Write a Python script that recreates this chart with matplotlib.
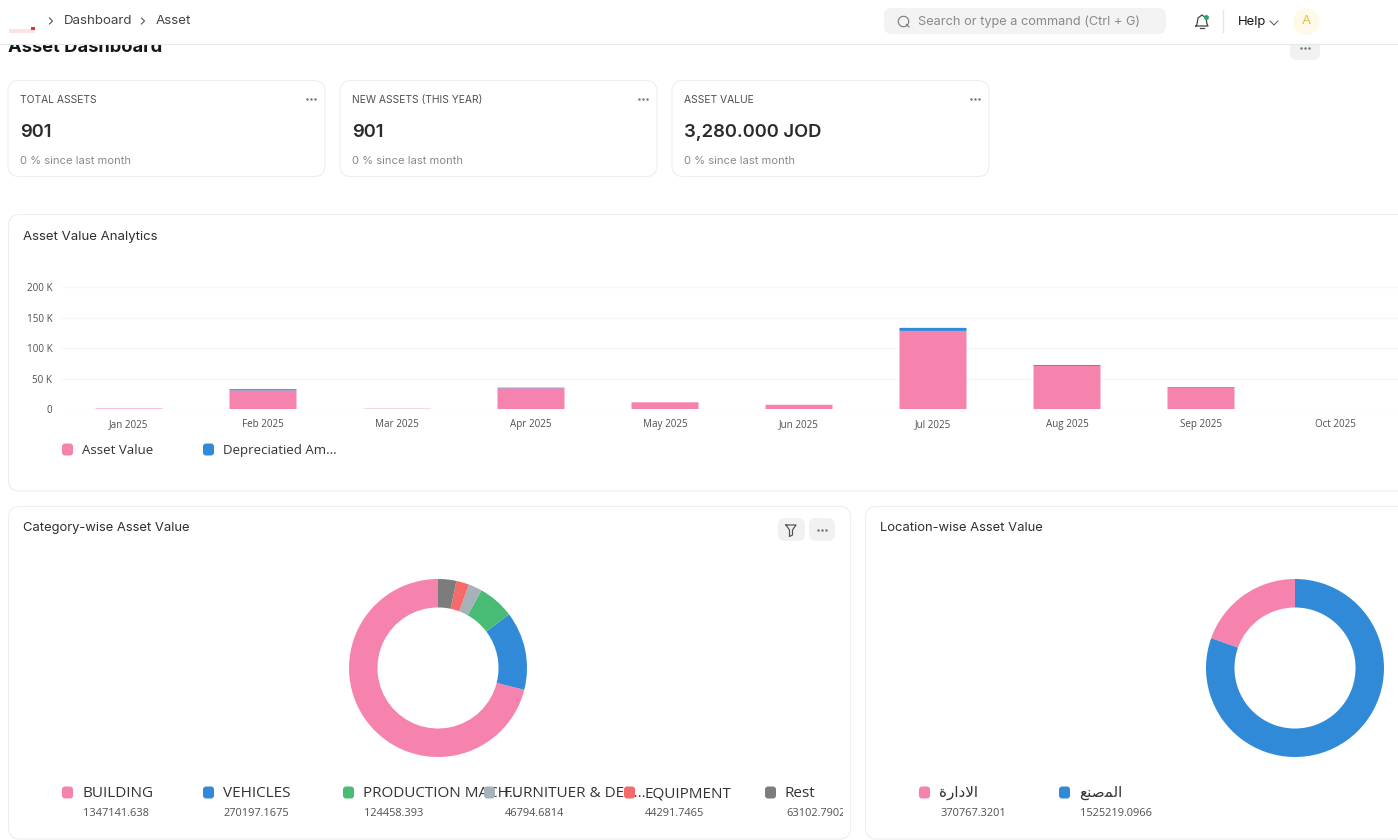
import matplotlib

matplotlib.use("Agg")

import matplotlib.pyplot as plt
from matplotlib.patches import FancyBboxPatch, Rectangle

W, H = 1398, 840

plt.rcParams["font.family"] = ["Inter", "DejaVu Sans"]

# 数据
months = ["Jan 2025", "Feb 2025", "Mar 2025", "Apr 2025", "May 2025",
          "Jun 2025", "Jul 2025", "Aug 2025", "Sep 2025", "Oct 2025"]
asset_value = [800, 30500, 500, 34000, 11000, 7000, 128000, 70500, 35000, 0]
depreciated = [0, 2000, 0, 1000, 0, 0, 5000, 1500, 1000, 0]
y_ticks = [0, 50000, 100000, 150000, 200000]
y_tick_labels = ["0", "50 K", "100 K", "150 K", "200 K"]

cat_names = ["BUILDING", "VEHICLES", "PRODUCTION MACH...", "FURNITUER & DEC...", "EQUIPMENT", "Rest"]
cat_values = [1347141.638, 270197.1675, 124458.393, 46794.6814, 44291.7465, 63102.7902]
cat_labels = ["1347141.638", "270197.1675", "124458.393", "46794.6814", "44291.7465", "63102.7902"]

# 阿拉伯文用呈现形式按视觉顺序写（matplotlib 不做 shaping）
loc_names = ["\ufe93\ufead\ufe8d\ufea9\ufefb\ufe8d", "\ufeca\ufee8\ufebb\ufee4\ufedf\ufe8d"]
loc_values = [370767.3201, 1525219.0966]
loc_labels = ["370767.3201", "1525219.0966"]

kpi_titles = ["TOTAL ASSETS", "NEW ASSETS (THIS YEAR)", "ASSET VALUE"]
kpi_values = ["901", "901", "3,280.000 JOD"]
kpi_notes = ["0 % since last month", "0 % since last month", "0 % since last month"]

PINK = "#f683ae"
BLUE = "#318ad8"
GREEN = "#48bb74"
GREY = "#a6b1b9"
RED = "#f56b6b"
DARK_GREY = "#7c7c7c"
pie_colors = [PINK, BLUE, GREEN, GREY, RED, DARK_GREY]
TEXT = "#333333"
CHART_FONT = ["Open Sans", "DejaVu Sans"]


def px_axes(fig, x0, y0, x1, y1, **kwargs):
    # 像素坐标（原点左上）转成 figure 坐标
    return fig.add_axes([x0 / W, 1 - y1 / H, (x1 - x0) / W, (y1 - y0) / H], **kwargs)


def card(ax, x0, y0, x1, y1, radius=11):
    ax.add_patch(FancyBboxPatch((x0, y0), x1 - x0, y1 - y0,
                                boxstyle=f"round,pad=0,rounding_size={radius}",
                                fc="white", ec="#eeeeee", lw=0.8, zorder=1))


def button(ax, x0, y0, x1, y1, radius=7, color="#f1f1f1", zorder=2):
    ax.add_patch(FancyBboxPatch((x0, y0), x1 - x0, y1 - y0,
                                boxstyle=f"round,pad=0,rounding_size={radius}",
                                fc=color, ec="none", zorder=zorder))


def dots(ax, x, y, color="#777777", size=0.8, zorder=3):
    ax.plot([x - 4, x, x + 4], [y, y, y], ls="none", marker="o", ms=size, color=color, zorder=zorder)


def legend_item(ax, x, y, name, value=None, color=PINK, clip=None, size=11.0, weight=500):
    # 文字先画、色块后画，后一项的色块盖住前一项溢出的文字
    ax.text(x + 20, y + 1, name, fontsize=size, fontweight=weight, color=TEXT, va="center",
            family=CHART_FONT, zorder=3)
    button(ax, x, y - 6, x + 11, y + 6, radius=3, color=color, zorder=4)
    if value is not None:
        t = ax.text(x + 21, y + 21, value, fontsize=7.9, color="#505050", va="center",
                    family=CHART_FONT, zorder=3)
        if clip is not None:
            t.set_clip_on(True)
            t.set_clip_path(clip)


fig = plt.figure(figsize=(W / 100, H / 100), dpi=100, facecolor="white")

bg = fig.add_axes([0, 0, 1, 1], zorder=0)
bg.set_xlim(0, W)
bg.set_ylim(H, 0)
bg.axis("off")

# 页面标题（被顶栏遮住上半部分）
bg.text(8, 47.5, "Asset Dashboard", fontsize=13.2, fontweight="bold", color="#171717", va="center", zorder=1)
button(bg, 1290, 30, 1320, 60, radius=7, zorder=1)
dots(bg, 1305, 47.5, zorder=2)

# 顶栏
bg.add_patch(Rectangle((0, 0), W, 43.5, fc="white", ec="none", zorder=5))
bg.plot([0, W], [43.5, 43.5], color="#e8e8e8", lw=0.8, zorder=6)
bg.add_patch(Rectangle((9, 29), 26, 4, fc="#fbe3e3", ec="none", zorder=6))
bg.add_patch(Rectangle((31, 27), 4, 3, fc="#d9323c", ec="none", zorder=6))
bg.plot([49.5, 52.5, 49.5], [18, 21, 24], color="#555555", lw=0.8, zorder=6)
bg.text(64, 21, "Dashboard", fontsize=9.6, color="#444444", va="center", zorder=6)
bg.plot([141.5, 144.5, 141.5], [18, 21, 24], color="#555555", lw=0.8, zorder=6)
bg.text(156, 21, "Asset", fontsize=9.6, color="#444444", va="center", zorder=6)
button(bg, 884, 8, 1166, 34, radius=8, color="#f3f3f3", zorder=6)
bg.plot([903], [21], marker="o", ms=7.5, mfc="none", mec="#777777", mew=0.8, zorder=7)
bg.plot([906.5, 909], [24.5, 27], color="#777777", lw=0.8, zorder=7)
bg.text(918, 22, "Search or type a command (Ctrl + G)", fontsize=9.2, color="#8a8a8a", va="center", zorder=7)
bg.plot([1196, 1197, 1198, 1202, 1206, 1207, 1208, 1196],
        [26, 24, 18, 15, 18, 24, 26, 26], color="#444444", lw=0.9, zorder=7)
bg.plot([1200, 1204], [28, 28], color="#444444", lw=0.9, zorder=7)
bg.plot([1205.5], [17], marker="o", ms=2.5, color="#2fa36b", zorder=8)
bg.plot([1223, 1223], [10, 32], color="#e6e6e6", lw=1, zorder=7)
bg.text(1238, 22.5, "Help", fontsize=9.4, color="#171717", va="center", zorder=7)
bg.plot([1270, 1274, 1278], [21, 25, 21], color="#555555", lw=0.7, zorder=7)
bg.plot([1306], [21], marker="o", ms=19, color="#fff9e8", mec="none", zorder=7)
bg.text(1306, 21, "A", fontsize=9.6, color="#e8bf55", ha="center", va="center", zorder=8)

# KPI 卡片
for x0, x1, title, value, note in zip([8, 340, 672], [325, 657, 989], kpi_titles, kpi_values, kpi_notes):
    card(bg, x0, 80.5, x1, 176.5)
    bg.text(x0 + 12, 100, title, fontsize=7.45, color="#505050", va="center", zorder=3)
    bg.text(x0 + 12, 132.5, value, fontsize=13.3, fontweight=600, color="#2b2b2b", va="center", zorder=3)
    bg.text(x0 + 12, 160.5, note, fontsize=8.1, color="#8a8a8a", va="center", zorder=3)
    dots(bg, x1 - 14, 98.5)

# 图表卡片
card(bg, 8.5, 214.5, 1440, 491)
bg.text(23, 237, "Asset Value Analytics", fontsize=9.5, color="#2f2f2f", va="center", zorder=3)
legend_item(bg, 62, 449.5, "Asset Value", color=PINK, size=9.5)
legend_item(bg, 203, 449.5, "Depreciatied Am...", color=BLUE, size=9.5)

card(bg, 8.5, 506.5, 850.5, 839)
bg.text(23, 528, "Category-wise Asset Value", fontsize=9.35, color="#2f2f2f", va="center", zorder=3)
button(bg, 778, 518, 805, 541)
bg.plot([786, 796, 792.5, 792.5, 789.5, 789.5, 786], [525, 525, 530, 535, 536.5, 530, 525],
        color="#555555", lw=0.9, zorder=3)
button(bg, 809, 518, 835, 541)
dots(bg, 822, 529.5)

card(bg, 865.5, 506.5, 1440, 839)
bg.text(880, 528, "Location-wise Asset Value", fontsize=9.35, color="#2f2f2f", va="center", zorder=3)

clip_rect = Rectangle((8, 506), 835, 333, transform=bg.transData)
for x, name, label, color in zip([62, 203, 343, 484, 624, 765], cat_names, cat_labels, pie_colors):
    legend_item(bg, x, 792.5, name, label, color, clip=clip_rect)
for x, name, label, color in zip([919, 1059], loc_names, loc_labels, [PINK, BLUE]):
    legend_item(bg, x, 792.5, name, label, color)

# 柱状图：Jan 中心 x=129，每月 134 px
ax = px_axes(fig, 62, 280, W, 409, zorder=2)
ax.patch.set_alpha(0)
ax.bar(range(len(months)), asset_value, width=0.5, color=PINK, zorder=3, snap=False)
ax.bar(range(len(months)), depreciated, width=0.5, bottom=asset_value, color=BLUE, zorder=3, snap=False)
ax.set_xlim((62 - 129) / 134, (W - 129) / 134)
ax.set_ylim(0, 129 / 122 * 200000)
ax.set_xticks(range(len(months)), months)
ax.set_yticks(y_ticks, y_tick_labels)
ax.tick_params(axis="both", length=0, labelsize=7.1, labelcolor="#505050")
ax.tick_params(axis="x", pad=7)
ax.tick_params(axis="y", pad=7)
for label in ax.get_xticklabels() + ax.get_yticklabels():
    label.set_family(CHART_FONT)
ax.grid(axis="y", color="#f7f7f7", lw=1)
ax.set_axisbelow(True)
for spine in ax.spines.values():
    spine.set_visible(False)

# 环形图
for cx, values, colors in [(438, cat_values, pie_colors), (1295, loc_values, [PINK, BLUE])]:
    pie_ax = px_axes(fig, cx - 89, 579, cx + 89, 757, zorder=2)
    pie_ax.pie(values, colors=colors, startangle=90, counterclock=True, radius=1.0,
               wedgeprops={"width": 0.32, "linewidth": 0})
    pie_ax.set_xlim(-1, 1)
    pie_ax.set_ylim(-1, 1)

fig.savefig("out.png", dpi=100)
plt.close(fig)
